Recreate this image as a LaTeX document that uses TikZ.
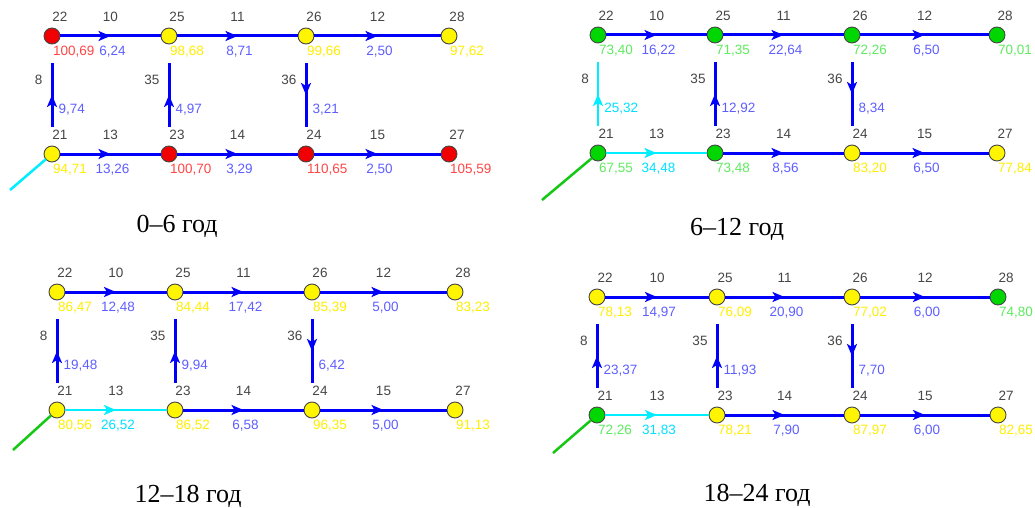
\documentclass[tikz,border=0pt]{standalone}
\usepackage{fontspec}
\setmainfont{Liberation Serif}
\newfontfamily\netfont{Liberation Sans}
\usetikzlibrary{arrows.meta,decorations.markings}

\definecolor{pipeblue}{RGB}{0,0,250}
\definecolor{pipecyan}{RGB}{0,238,255}
\definecolor{feedgreen}{RGB}{20,200,20}
\definecolor{flowblue}{RGB}{95,95,255}
\definecolor{flowcyan}{RGB}{0,225,255}
\definecolor{hubred}{RGB}{240,0,0}
\definecolor{hubyel}{RGB}{255,245,0}
\definecolor{hubgrn}{RGB}{0,215,0}
\definecolor{txtred}{RGB}{255,70,70}
\definecolor{txtyel}{RGB}{255,238,0}
\definecolor{txtgrn}{RGB}{95,235,95}
\definecolor{numgray}{RGB}{70,70,70}

\tikzset{
 hub/.style={circle,draw=numgray,line width=0.9pt,minimum size=16pt,inner sep=0pt,outer sep=0pt},
 num/.style={font=\netfont\fontsize{13.5}{14}\selectfont,text=numgray,inner sep=0pt},
 val/.style={font=\netfont\fontsize{13.5}{14}\selectfont,inner sep=0pt,anchor=west},
 flow/.style={font=\netfont\fontsize{13.5}{14}\selectfont,inner sep=0pt},
 midarrow/.style={decoration={markings,mark=at position 0.5 with {\arrow{Stealth[length=12pt,width=10pt,inset=3pt]}}},postaction={decorate}},
 bpipe/.style={color=pipeblue,line width=3pt,midarrow,nodes={text=flowblue}},
 cpipe/.style={color=pipecyan,line width=2.5pt,midarrow,nodes={text=flowcyan}},
 feed/.style={line width=2.5pt},
 caption/.style={font=\fontsize{26}{30}\selectfont,anchor=base,inner sep=0pt}
}

\begin{document}
\begin{tikzpicture}[x=1pt,y=-1pt]
 \fill[white] (0,0) rectangle (1035,508);
 \useasboundingbox (0,0) rectangle (1035,508);

 % 0-6
 \begin{scope}[shift={(52,36)},name prefix=a-]
  \foreach \id/\x/\y/\st/\v in {22/0/0/red/{100,69},25/117/0/yel/{98,68},26/254/0/yel/{99,66},28/397/0/yel/{97,62},
   21/0/118/yel/{94,71},23/117/118/red/{100,70},24/254/118/red/{110,65},27/397/118/red/{105,59}}{
   \node[hub,fill=hub\st] (\id) at (\x,\y) {};
   \node[num] (\id-no) at ([shift={(8,-19)}]\id) {\id};
   \node[val,text=txt\st] (\id-val) at ([shift={(1,16)}]\id) {\v};
  }
  \foreach \a/\b/\no/\q/\kind in {22/25/10/{6,24}/bpipe,25/26/11/{8,71}/bpipe,26/28/12/{2,50}/bpipe,
   21/23/13/{13,26}/bpipe,23/24/14/{3,29}/bpipe,24/27/15/{2,50}/bpipe}
   \draw[\kind] (\a) -- (\b) node[num,midway,yshift=19pt] (e\no) {\no} node[flow,midway,xshift=2pt,yshift=-16pt] (q\no) {\q};
  \foreach \a/\b/\no/\q/\kind in {21/22/8/{9,74}/bpipe,23/25/35/{4,97}/bpipe,26/24/36/{3,21}/bpipe}
   \draw[\kind,shorten <=19pt,shorten >=19pt] (\a) -- (\b)
    node[num,midway,anchor=east,xshift=-8pt,yshift=15pt] (e\no) {\no}
    node[flow,midway,anchor=west,xshift=5pt,yshift=-15pt] (q\no) {\q};
  \coordinate (feed) at (-42,154);
  \draw[feed,pipecyan] (21) -- (feed);
 \end{scope}

 % 6-12
 \begin{scope}[shift={(598,35)},name prefix=b-]
  \foreach \id/\x/\y/\st/\v in {22/0/0/grn/{73,40},25/117/0/grn/{71,35},26/254/0/grn/{72,26},28/399/0/grn/{70,01},
   21/0/118/grn/{67,55},23/117/118/grn/{73,48},24/254/118/yel/{83,20},27/399/118/yel/{77,84}}{
   \node[hub,fill=hub\st] (\id) at (\x,\y) {};
   \node[num] (\id-no) at ([shift={(8,-19)}]\id) {\id};
   \node[val,text=txt\st] (\id-val) at ([shift={(1,16)}]\id) {\v};
  }
  \foreach \a/\b/\no/\q/\kind in {22/25/10/{16,22}/bpipe,25/26/11/{22,64}/bpipe,26/28/12/{6,50}/bpipe,
   21/23/13/{34,48}/cpipe,23/24/14/{8,56}/bpipe,24/27/15/{6,50}/bpipe}
   \draw[\kind] (\a) -- (\b) node[num,midway,yshift=19pt] (e\no) {\no} node[flow,midway,xshift=2pt,yshift=-16pt] (q\no) {\q};
  \foreach \a/\b/\no/\q/\kind in {21/22/8/{25,32}/cpipe,23/25/35/{12,92}/bpipe,26/24/36/{8,34}/bpipe}
   \draw[\kind,shorten <=19pt,shorten >=19pt] (\a) -- (\b)
    node[num,midway,anchor=east,xshift=-8pt,yshift=15pt] (e\no) {\no}
    node[flow,midway,anchor=west,xshift=5pt,yshift=-15pt] (q\no) {\q};
  \coordinate (feed) at (-56,165);
  \draw[feed,feedgreen] (21) -- (feed);
 \end{scope}

 % 12-18
 \begin{scope}[shift={(57,292)},name prefix=c-]
  \foreach \id/\x/\y/\st/\v in {22/0/0/yel/{86,47},25/118/0/yel/{84,44},26/255/0/yel/{85,39},28/398/0/yel/{83,23},
   21/0/118/yel/{80,56},23/118/118/yel/{86,52},24/255/118/yel/{96,35},27/398/118/yel/{91,13}}{
   \node[hub,fill=hub\st] (\id) at (\x,\y) {};
   \node[num] (\id-no) at ([shift={(8,-19)}]\id) {\id};
   \node[val,text=txt\st] (\id-val) at ([shift={(1,16)}]\id) {\v};
  }
  \foreach \a/\b/\no/\q/\kind in {22/25/10/{12,48}/bpipe,25/26/11/{17,42}/bpipe,26/28/12/{5,00}/bpipe,
   21/23/13/{26,52}/cpipe,23/24/14/{6,58}/bpipe,24/27/15/{5,00}/bpipe}
   \draw[\kind] (\a) -- (\b) node[num,midway,yshift=19pt] (e\no) {\no} node[flow,midway,xshift=2pt,yshift=-16pt] (q\no) {\q};
  \foreach \a/\b/\no/\q/\kind in {21/22/8/{19,48}/bpipe,23/25/35/{9,94}/bpipe,26/24/36/{6,42}/bpipe}
   \draw[\kind,shorten <=19pt,shorten >=19pt] (\a) -- (\b)
    node[num,midway,anchor=east,xshift=-8pt,yshift=15pt] (e\no) {\no}
    node[flow,midway,anchor=west,xshift=5pt,yshift=-15pt] (q\no) {\q};
  \coordinate (feed) at (-44,158);
  \draw[feed,feedgreen] (21) -- (feed);
 \end{scope}

 % 18-24
 \begin{scope}[shift={(597,297)},name prefix=d-]
  \foreach \id/\x/\y/\st/\v in {22/0/0/yel/{78,13},25/120/0/yel/{76,09},26/255/0/yel/{77,02},28/401/0/grn/{74,80},
   21/0/118/grn/{72,26},23/120/118/yel/{78,21},24/255/118/yel/{87,97},27/401/118/yel/{82,65}}{
   \node[hub,fill=hub\st] (\id) at (\x,\y) {};
   \node[num] (\id-no) at ([shift={(8,-19)}]\id) {\id};
   \node[val,text=txt\st] (\id-val) at ([shift={(1,16)}]\id) {\v};
  }
  \foreach \a/\b/\no/\q/\kind in {22/25/10/{14,97}/bpipe,25/26/11/{20,90}/bpipe,26/28/12/{6,00}/bpipe,
   21/23/13/{31,83}/cpipe,23/24/14/{7,90}/bpipe,24/27/15/{6,00}/bpipe}
   \draw[\kind] (\a) -- (\b) node[num,midway,yshift=19pt] (e\no) {\no} node[flow,midway,xshift=2pt,yshift=-16pt] (q\no) {\q};
  \foreach \a/\b/\no/\q/\kind in {21/22/8/{23,37}/bpipe,23/25/35/{11,93}/bpipe,26/24/36/{7,70}/bpipe}
   \draw[\kind,shorten <=19pt,shorten >=19pt] (\a) -- (\b)
    node[num,midway,anchor=east,xshift=-8pt,yshift=15pt] (e\no) {\no}
    node[flow,midway,anchor=west,xshift=5pt,yshift=-15pt] (q\no) {\q};
  \coordinate (feed) at (-44,156);
  \draw[feed,feedgreen] (21) -- (feed);
 \end{scope}

 \node[caption] (cap-a) at (177,232) {0–6 год};
 \node[caption] (cap-b) at (737,235) {6–12 год};
 \node[caption] (cap-c) at (188,502) {12–18 год};
 \node[caption] (cap-d) at (757,501) {18–24 год};
\end{tikzpicture}
\end{document}
